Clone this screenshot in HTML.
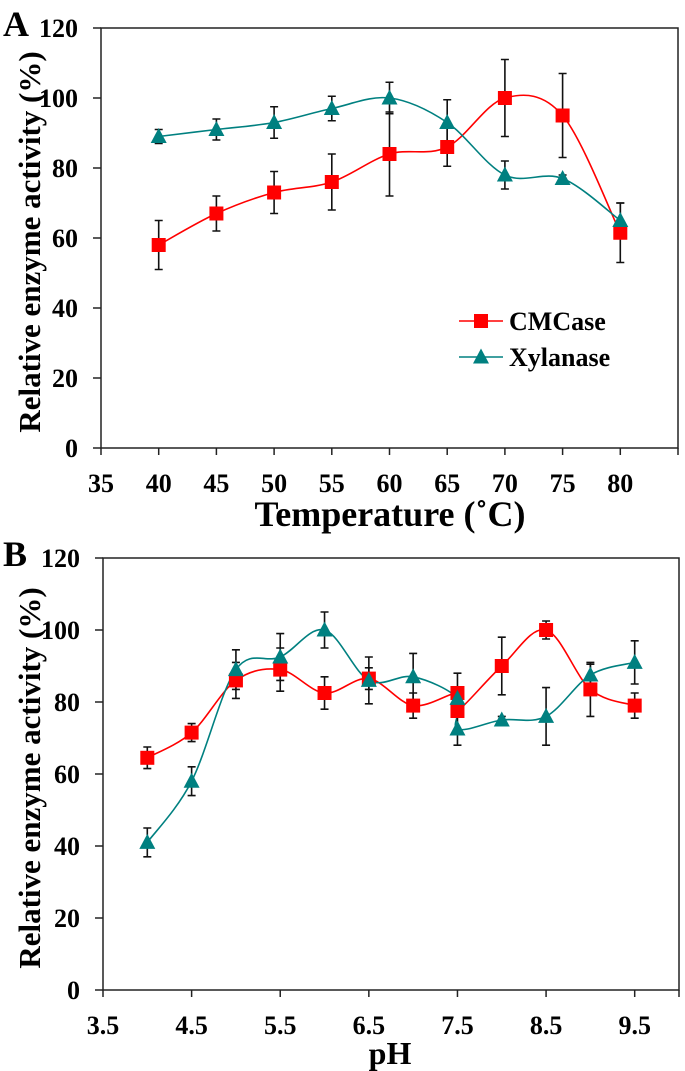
<!DOCTYPE html>
<html><head><meta charset="utf-8"><style>
html,body{margin:0;padding:0;background:#fff;}
svg{display:block;font-family:"Liberation Serif",serif;font-weight:bold;}
</style></head><body>
<svg id="fig" width="685" height="1071" viewBox="0 0 685 1071" xmlns="http://www.w3.org/2000/svg">
<g id="pa"></g>
<g id="pb"></g>
</svg>
<script>
// Panel A data
const tempCategories = [40,45,50,55,60,65,70,75,80];
const tempCMCase = [58,67,73,76,84,86,100,95,61.5];
const tempCMCaseErr = [7,5,6,8,12,5.5,11,12,8.5];
const tempXylanase = [89,91,93,97,100,93,78,77,65];
const tempXylanaseErr = [2,3,4.5,3.5,4.5,6.5,4,1,5];
const tempXTicks = [35,40,45,50,55,60,65,70,75,80];
// Panel B data
const phCMCaseX = [4,4.5,5,5.5,6,6.5,7,7.5,7.5,8,8.5,9,9.5];
const phCMCase = [64.5,71.5,86,89,82.5,86.5,79,82.5,77.5,90,100,83.5,79];
const phCMCaseErr = [3,2.5,5,6,4.5,3,3.5,5.5,0,8,2.5,7.5,3.5];
const phXylX = [4,4.5,5,5.5,6,6.5,7,7.5,7.5,8,8.5,9,9.5];
const phXylanase = [41,58,89,92.5,100,86,87,81,72.5,75,76,87.5,91];
const phXylanaseErr = [4,4,5.5,6.5,5,6.5,6.5,0,4.5,1,8,3,6];
const phXTicks = [3.5,4.5,5.5,6.5,7.5,8.5,9.5];
const yTicks = [0,20,40,60,80,100,120];

const NS="http://www.w3.org/2000/svg";
function mk(parent,tag,attrs){const e=document.createElementNS(NS,tag);for(const k in attrs)e.setAttribute(k,attrs[k]);parent.appendChild(e);return e;}

function smoothPath(pts){
  let d=`M${pts[0][0]},${pts[0][1]}`;
  for(let i=0;i<pts.length-1;i++){
    const p0=pts[Math.max(0,i-1)],p1=pts[i],p2=pts[i+1],p3=pts[Math.min(pts.length-1,i+2)];
    const c1=[p1[0]+(p2[0]-p0[0])/6,p1[1]+(p2[1]-p0[1])/6];
    const c2=[p2[0]-(p3[0]-p1[0])/6,p2[1]-(p3[1]-p1[1])/6];
    d+=` C${c1[0]},${c1[1]} ${c2[0]},${c2[1]} ${p2[0]},${p2[1]}`;
  }
  return d;
}

function panel(g,cfg){
  const sx=v=>cfg.x0+(v-cfg.xmin)/(cfg.xmax-cfg.xmin)*(cfg.x1-cfg.x0);
  const sy=v=>cfg.y1-(v/120)*(cfg.y1-cfg.y0);
  const frame=mk(g,'rect',{x:cfg.x0,y:cfg.y0,width:cfg.x1-cfg.x0,height:cfg.y1-cfg.y0,fill:'none',stroke:'#222','stroke-width':1.5});
  
  
  yTicks.forEach(t=>{
    const y=sy(t);
    const tk=mk(g,'line',{x1:cfg.x0-8,x2:cfg.x0,y1:y,y2:y,stroke:'#222','stroke-width':1.5});
    
    
    const tl=mk(g,'text',{x:cfg.x0-23,y:y+9,'text-anchor':'end','font-size':26});
    tl.textContent=t;
    
    
  });
  cfg.ticks.forEach(t=>{
    const x=sx(t);
    const tk=mk(g,'line',{x1:x,x2:x,y1:cfg.y1,y2:cfg.y1+7,stroke:'#222','stroke-width':1.5});
    
    
    const tl=mk(g,'text',{x:x,y:cfg.tickY,'text-anchor':'middle','font-size':26});
    tl.textContent=cfg.fmt(t);
    
    
  });
  mk(g,'line',{x1:cfg.x1,x2:cfg.x1,y1:cfg.y1,y2:cfg.y1+7,stroke:'#222','stroke-width':1.5});
  cfg.series.forEach(s=>{
    const pts=s.x.map((v,i)=>[sx(v),sy(s.y[i])]);
    const ln=mk(g,'path',{d:smoothPath(pts),fill:'none',stroke:s.color,'stroke-width':1.6});
    
    
  });
  cfg.series.forEach(s=>{
    s.x.forEach((v,i)=>{
      const x=sx(v);
      const e=s.err[i];
      if(e>0){
        const eg=mk(g,'path',{d:`M${x},${sy(s.y[i]+e)}V${sy(s.y[i]-e)}M${x-4},${sy(s.y[i]+e)}H${x+4}M${x-4},${sy(s.y[i]-e)}H${x+4}`,stroke:'#111','stroke-width':1.6,fill:'none'});
        
        
      }
    });
  });
  cfg.series.forEach(s=>{
    s.x.forEach((v,i)=>{
      const x=sx(v),y=sy(s.y[i]);
      let m;
      if(s.marker==='sq') m=mk(g,'rect',{x:x-7,y:y-7,width:14,height:14,fill:s.color});
      else m=mk(g,'polygon',{points:`${x},${y-8.5} ${x+8},${y+6.5} ${x-8},${y+6.5}`,fill:s.color});
      
      
    });
  });
  const cy=(cfg.y0+cfg.y1)/2+4;
  const lt=mk(g,'text',{x:cfg.ytx,y:cy,'text-anchor':'middle','font-size':31,transform:`rotate(-90 ${cfg.ytx} ${cy})`});
  lt.textContent='Relative enzyme activity (%)';
  
  
  const xt=mk(g,'text',{x:cfg.xtx,y:cfg.xty,'text-anchor':'middle','font-size':cfg.xtSize});
  xt.textContent=cfg.xTitle;
  
  
  const pl=mk(g,'text',{x:3,y:cfg.y0+8,'font-size':36});
  pl.textContent=cfg.letter;
  
  
}

const red='#ff0000', teal='#008080';
panel(document.getElementById('pa'),{x0:101,x1:678,y0:28,y1:448,xmin:35,xmax:85,ticks:tempXTicks,fmt:t=>String(t),tickY:492,
  ytx:40,xtx:390,xty:526,xtSize:36,xTitle:'Temperature (\u02DAC)',letter:'A',
  series:[{name:'cmcase',x:tempCategories,y:tempCMCase,err:tempCMCaseErr,color:red,marker:'sq'},
          {name:'xylanase',x:tempCategories,y:tempXylanase,err:tempXylanaseErr,color:teal,marker:'tri'}]});
panel(document.getElementById('pb'),{x0:103,x1:679,y0:558,y1:990,xmin:3.5,xmax:10,ticks:phXTicks,fmt:t=>t.toFixed(1),tickY:1034,
  ytx:40,xtx:390,xty:1064,xtSize:32,xTitle:'pH',letter:'B',
  series:[{name:'cmcase',x:phCMCaseX,y:phCMCase,err:phCMCaseErr,color:red,marker:'sq'},
          {name:'xylanase',x:phXylX,y:phXylanase,err:phXylanaseErr,color:teal,marker:'tri'}]});

// Legend (panel A)
const pa=document.getElementById('pa');
const lg=mk(pa,'g',{});


[['CMCase',red,'sq',321],['Xylanase',teal,'tri',357]].forEach(([lab,c,mkType,y])=>{
  const e=mk(lg,'g',{});
  
  
  mk(e,'line',{x1:459,x2:503,y1:y,y2:y,stroke:c,'stroke-width':1.6});
  if(mkType==='sq') mk(e,'rect',{x:474,y:y-7,width:14,height:14,fill:c});
  else mk(e,'polygon',{points:`481,${y-8.5} 489,${y+6.5} 473,${y+6.5}`,fill:c});
  const t=mk(e,'text',{x:509,y:y+9,'font-size':26});
  t.textContent=lab;
});
</script>
</body></html>
